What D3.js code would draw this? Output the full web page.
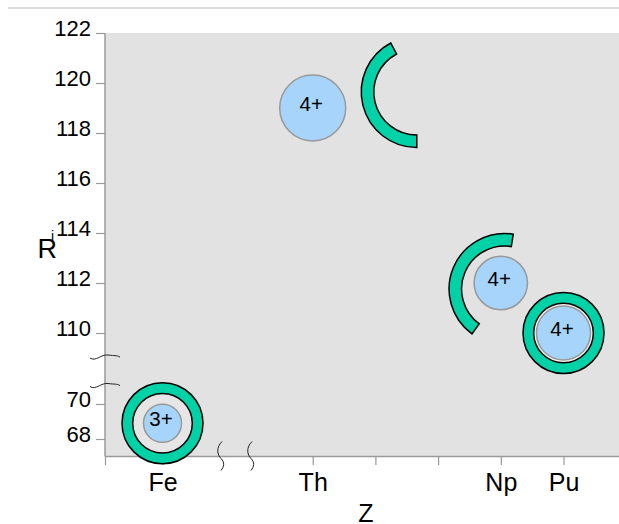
<!DOCTYPE html>
<html>
<head>
<meta charset="utf-8">
<script src="https://cdnjs.cloudflare.com/ajax/libs/d3/7.8.5/d3.min.js"></script>
<style>
  body { margin: 0; background: #fff; }
  svg { display: block; font-family: "Liberation Sans", Arial, sans-serif; }
</style>
</head>
<body>
<div id="chart"></div>
<script>
// ions: element, Z, radius, charge
const ions = ['Fe', 'Th', 'Np', 'Pu'];
const ionZ = [26, 90, 93, 94];
const ionR = [68.9, 119, 112, 110];
const ionCharge = ['3+', '4+', '4+', '4+'];

// open shells (arcs) drawn next to Th and Np, given in data units
const arcZ = [91.66, 93.06];
const arcR = [119.64, 111.76];

// axis ticks
const yTicksHigh = [110, 112, 114, 116, 118, 120, 122];
const yTicksLow = [68, 70];
const xTicksLow = [25, 26];
const xLabelsLow = ['', 'Fe'];
const xTicksHigh = [90, 91, 92, 93, 94];
const xLabelsHigh = ['Th', '', '', 'Np', 'Pu'];

const width = 619, height = 524;
const plotLeft = 105, plotRight = 619, plotTop = 33, plotBottom = 456.5;

const svg = d3.select('#chart').append('svg')
  .attr('width', width)
  .attr('height', height);

// broken scales
const xLow = d3.scaleLinear().domain([25, 27]).range([plotLeft, 220]);
const xHigh = d3.scaleLinear().domain([89, 94.885]).range([250, plotRight]);
const yHigh = d3.scaleLinear().domain([109, 122]).range([358, plotTop]);
const yLow = d3.scaleLinear().domain([67, 71]).range([plotBottom, 386.5]);

const xPos = z => z < 50 ? xLow(z) : xHigh(z);
const yPos = r => r < 90 ? yLow(r) : yHigh(r);

// thin rule at the top
svg.append('line')
  .attr('x1', 8).attr('x2', width).attr('y1', 8).attr('y2', 8)
  .attr('stroke', '#cfcfcf').attr('stroke-width', 1.5);

// plot background
svg.append('rect')
  .attr('x', plotLeft).attr('y', plotTop)
  .attr('width', plotRight - plotLeft).attr('height', plotBottom - plotTop)
  .attr('fill', '#e2e2e2');

// axes
const axisColor = '#9a9a9a';
function styleAxis(g, size) {
  g.select('.domain').remove();
  g.selectAll('.tick line').attr('stroke', axisColor).attr('stroke-width', 1.2);
  g.selectAll('.tick text').attr('fill', '#000').style('font-size', size + 'px');
}

svg.append('g').attr('transform', `translate(${plotLeft},0)`)
  .call(d3.axisLeft(yHigh).tickValues(yTicksHigh).tickSize(9).tickPadding(5)
    .tickFormat(d3.format('d')))
  .call(g => styleAxis(g, 22))
  .selectAll('.tick text').attr('dy', '0.13em');

svg.append('g').attr('transform', `translate(${plotLeft},0)`)
  .call(d3.axisLeft(yLow).tickValues(yTicksLow).tickSize(9).tickPadding(5)
    .tickFormat(d3.format('d')))
  .call(g => styleAxis(g, 22))
  .selectAll('.tick text').attr('dy', '0.13em');

svg.append('g').attr('transform', `translate(0,${plotBottom})`)
  .call(d3.axisBottom(xLow).tickValues(xTicksLow).tickSize(8.5).tickPadding(8)
    .tickFormat((d, i) => xLabelsLow[i]))
  .call(g => styleAxis(g, 25));

svg.append('g').attr('transform', `translate(0,${plotBottom})`)
  .call(d3.axisBottom(xHigh).tickValues(xTicksHigh).tickSize(8.5).tickPadding(8)
    .tickFormat((d, i) => xLabelsHigh[i]))
  .call(g => styleAxis(g, 25));

// axis lines
svg.append('line')
  .attr('x1', plotLeft).attr('x2', plotLeft).attr('y1', plotTop).attr('y2', plotBottom)
  .attr('stroke', axisColor).attr('stroke-width', 1.5);
svg.append('line')
  .attr('x1', plotLeft).attr('x2', plotRight).attr('y1', plotBottom).attr('y2', plotBottom)
  .attr('stroke', axisColor).attr('stroke-width', 1.5);

// break marks
const yBreaks = [yHigh.range()[0], yLow.range()[1]];
yBreaks.forEach(y => {
  svg.append('path')
    .attr('d', `M${plotLeft - 15},${y} C${plotLeft - 9},${y + 4} ${plotLeft - 4},${y - 4} ${plotLeft + 3},${y - 3} S${plotLeft + 11},${y - 3} ${plotLeft + 15},${y - 1}`)
    .attr('fill', 'none').attr('stroke', '#222').attr('stroke-width', 1);
});
const xBreaks = [xLow.range()[1], xHigh.range()[0]];
xBreaks.forEach(x => {
  svg.append('path')
    .attr('d', `M${x + 2},${plotBottom - 15} C${x - 4},${plotBottom - 9} ${x - 3},${plotBottom - 2} ${x + 1},${plotBottom + 2} S${x + 4},${plotBottom + 10} ${x + 1},${plotBottom + 14}`)
    .attr('fill', 'none').attr('stroke', '#222').attr('stroke-width', 1);
});

// axis titles
svg.append('text').attr('x', 37.5).attr('y', 258)
  .style('font-size', '27px').text('R');
svg.append('text').attr('x', 51).attr('y', 240.5)
  .style('font-size', '14px').text('i');
svg.append('text').attr('x', 366).attr('y', 521.5)
  .attr('text-anchor', 'middle').style('font-size', '25px').text('Z');

// marker sizes (px)
const ionSize = { Fe: 19, Th: 33, Np: 26.7, Pu: 27 };
const ringOuter = 40.5, ringInner = 29.8;
const arcOuter = 55.5, arcInner = 43;
const green = '#00d1a7', blue = '#a6d4fa';

const deg = Math.PI / 180;
const shellArc = d3.arc().innerRadius(arcInner).outerRadius(arcOuter);
const arcAngles = [[180, 332], [216, 369]];

arcZ.forEach((z, i) => {
  svg.append('path')
    .attr('transform', `translate(${xPos(z)},${yPos(arcR[i])})`)
    .attr('d', shellArc({ startAngle: arcAngles[i][0] * deg, endAngle: arcAngles[i][1] * deg }))
    .attr('fill', green).attr('stroke', '#000').attr('stroke-width', 1.5);
});

// closed rings around Fe and Pu
const fullRing = d3.arc().innerRadius(ringInner).outerRadius(ringOuter)
  .startAngle(0).endAngle(2 * Math.PI);
['Fe', 'Pu'].forEach(name => {
  const i = ions.indexOf(name);
  const g = svg.append('g')
    .attr('transform', `translate(${xPos(ionZ[i])},${yPos(ionR[i])})`);
  g.append('circle').attr('r', ringInner).attr('fill', name === 'Pu' ? '#f2f2f2' : '#e6e6e6');
  g.append('path').attr('d', fullRing())
    .attr('fill', green).attr('stroke', '#000').attr('stroke-width', 1.5);
});

// ions
const nodes = svg.selectAll('.ion')
  .data(ions)
  .enter()
  .append('g')
  .attr('class', 'ion')
  .attr('transform', (d, i) => `translate(${xPos(ionZ[i])},${yPos(ionR[i])})`);

nodes.append('circle')
  .attr('r', d => ionSize[d])
  .attr('fill', blue)
  .attr('stroke', '#999')
  .attr('stroke-width', 1.5);

nodes.append('text')
  .attr('text-anchor', 'middle')
  .attr('x', -1.5)
  .attr('y', 3)
  .style('font-size', '20.5px')
  .text((d, i) => ionCharge[i]);
</script>
</body>
</html>
